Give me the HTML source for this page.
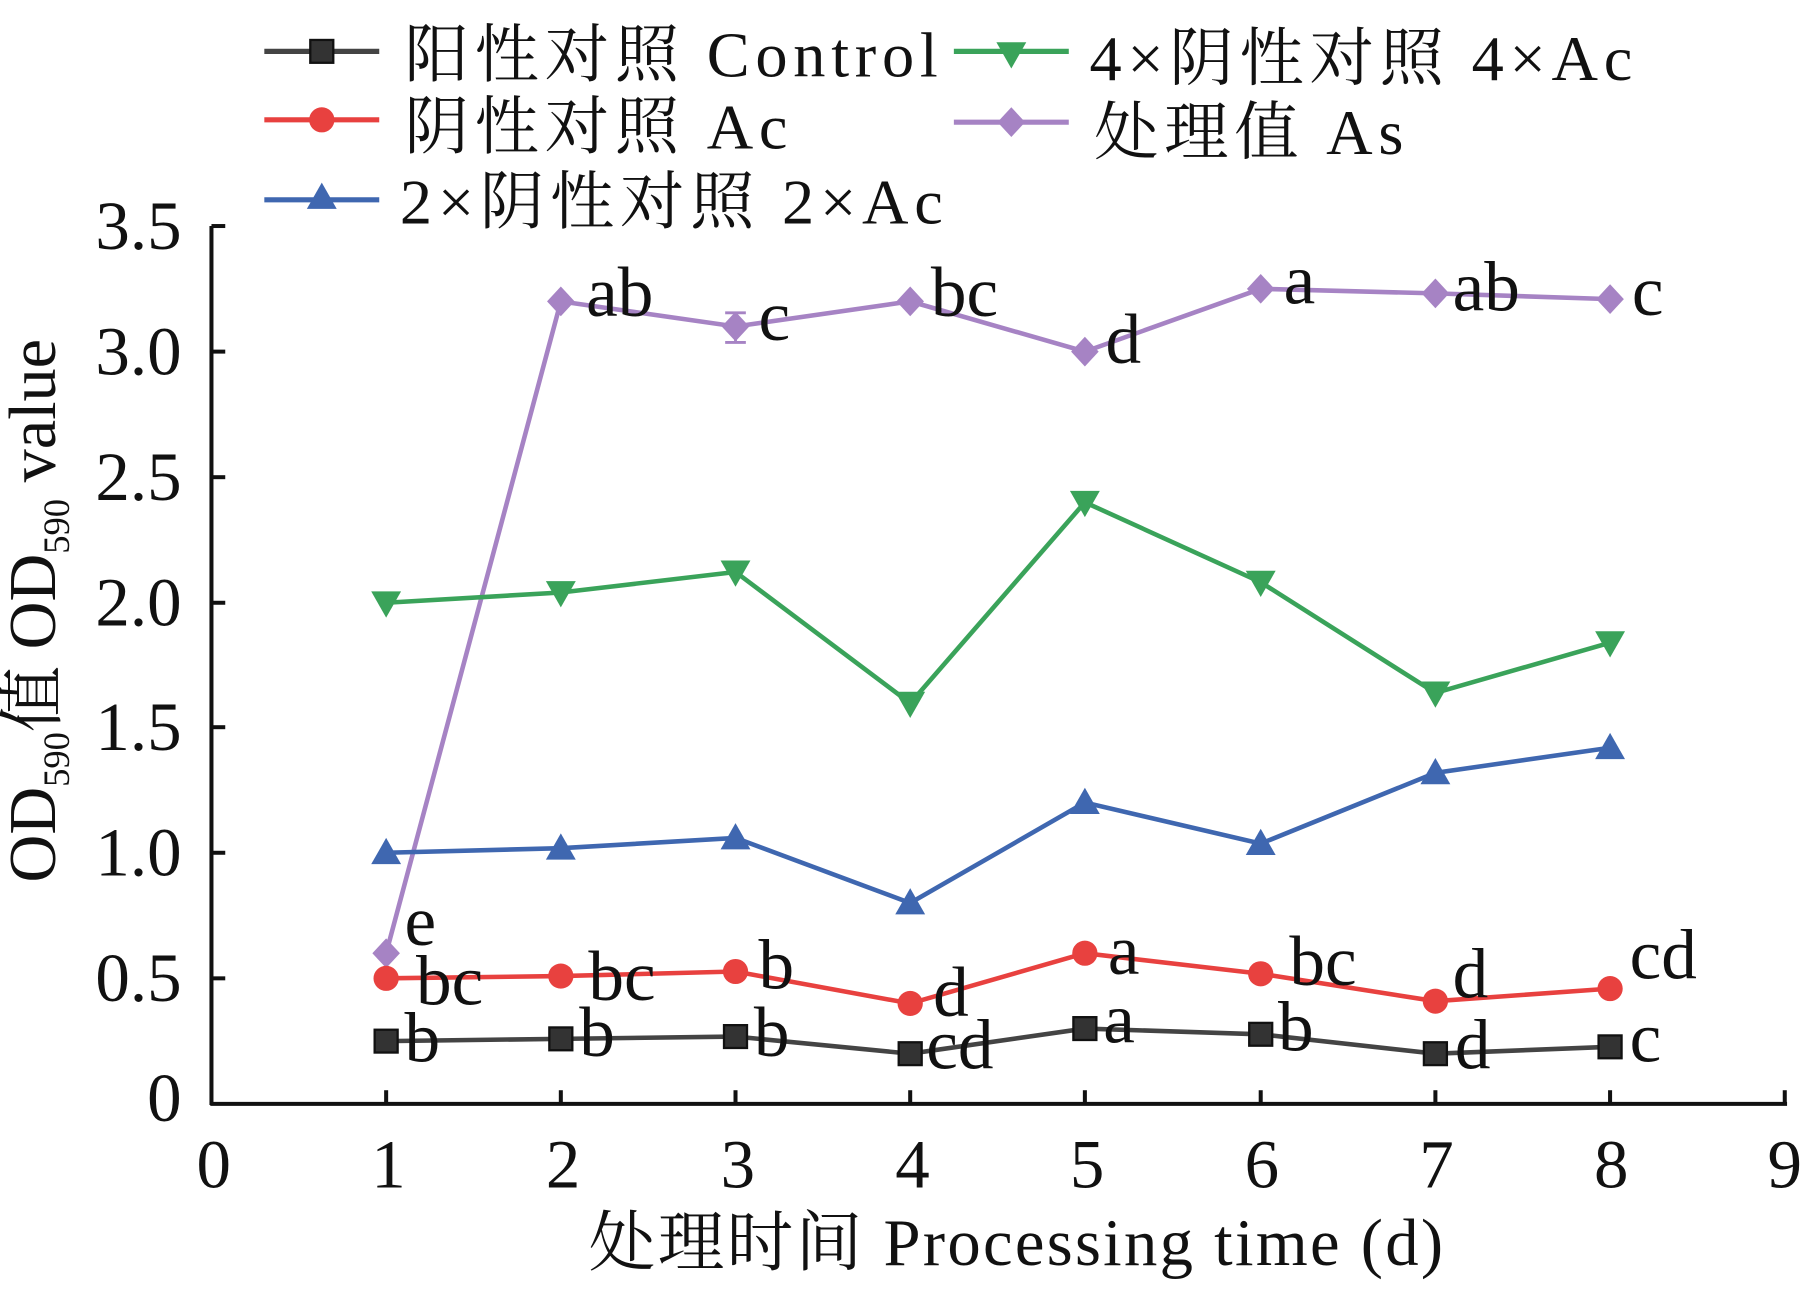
<!DOCTYPE html>
<html><head><meta charset="utf-8"><style>html,body{margin:0;padding:0;background:#fff}svg{display:block}</style></head>
<body>
<svg width="1802" height="1290" viewBox="0 0 1568 1130" preserveAspectRatio="none" font-family="'Liberation Serif','Noto Serif CJK SC',serif">
<defs>
<g id="sq"><rect x="-10" y="-10" width="20" height="20" fill="#333" stroke="#111" stroke-width="2"/></g>
<g id="ci"><circle r="11" fill="#e8413f"/></g>
<g id="tu"><polygon points="0,-13 13,10 -13,10" fill="#3f67b0"/></g>
<g id="td"><polygon points="0,13 13,-10 -13,-10" fill="#3aa35a"/></g>
<g id="di"><polygon points="0,-13 12,0 0,13 -12,0" fill="#a683c4"/></g>
</defs>
<g stroke="#111" stroke-width="3.5" fill="none">
<line x1="184" y1="198" x2="184" y2="968"/>
<line x1="183" y1="967" x2="1555" y2="967"/>
<line x1="184" y1="198" x2="196" y2="198"/><line x1="184" y1="308" x2="196" y2="308"/><line x1="184" y1="418" x2="196" y2="418"/><line x1="184" y1="528" x2="196" y2="528"/><line x1="184" y1="637" x2="196" y2="637"/><line x1="184" y1="747" x2="196" y2="747"/><line x1="184" y1="857" x2="196" y2="857"/>
<line x1="336" y1="967" x2="336" y2="955"/><line x1="488" y1="967" x2="488" y2="955"/><line x1="640" y1="967" x2="640" y2="955"/><line x1="792" y1="967" x2="792" y2="955"/><line x1="944" y1="967" x2="944" y2="955"/><line x1="1097" y1="967" x2="1097" y2="955"/><line x1="1249" y1="967" x2="1249" y2="955"/><line x1="1401" y1="967" x2="1401" y2="955"/><line x1="1553" y1="967" x2="1553" y2="955"/>
</g>
<g font-size="60" fill="#111" text-anchor="end">
<text x="158" y="218">3.5</text><text x="158" y="328">3.0</text><text x="158" y="438">2.5</text><text x="158" y="548">2.0</text><text x="158" y="657">1.5</text><text x="158" y="767">1.0</text><text x="158" y="877">0.5</text><text x="158" y="982">0</text>
</g>
<g font-size="60" fill="#111" text-anchor="middle">
<text x="186" y="1040">0</text><text x="338" y="1040">1</text><text x="490" y="1040">2</text><text x="642" y="1040">3</text><text x="794" y="1040">4</text><text x="946" y="1040">5</text><text x="1098" y="1040">6</text><text x="1250" y="1040">7</text><text x="1402" y="1040">8</text><text x="1553" y="1040">9</text>
</g>
<text x="885" y="1108" font-size="58" fill="#111" text-anchor="middle" letter-spacing="2">处理时间 Processing time (d)</text>
<text transform="translate(48,535) rotate(-90)" font-size="58" fill="#111" text-anchor="middle">OD<tspan font-size="32" dy="12">590</tspan><tspan dy="-12">值 OD</tspan><tspan font-size="32" dy="12">590</tspan><tspan dy="-12"> value</tspan></text>
<g fill="none" stroke-width="4">
<polyline stroke="#a683c4" points="336,835 488,264 640,286 792,264 944,308 1097,253 1249,257 1401,262"/>
<polyline stroke="#3aa35a" points="336,528 488,519 640,501 792,616 944,440 1097,510 1249,607 1401,563"/>
<polyline stroke="#3f67b0" points="336,747 488,743 640,734 792,791 944,703 1097,739 1249,677 1401,655"/>
<polyline stroke="#e8413f" points="336,857 488,855 640,851 792,879 944,835 1097,853 1249,877 1401,866"/>
<polyline stroke="#444" points="336,912 488,910 640,908 792,923 944,901 1097,906 1249,923 1401,917"/>
</g>
<g stroke="#a683c4" stroke-width="2.5"><line x1="640" y1="274" x2="640" y2="300"/><line x1="631" y1="274" x2="649" y2="274"/><line x1="631" y1="300" x2="649" y2="300"/></g>
<use href="#di" x="336" y="835"/><use href="#di" x="488" y="264"/><use href="#di" x="640" y="286"/><use href="#di" x="792" y="264"/><use href="#di" x="944" y="308"/><use href="#di" x="1097" y="253"/><use href="#di" x="1249" y="257"/><use href="#di" x="1401" y="262"/>
<use href="#td" x="336" y="528"/><use href="#td" x="488" y="519"/><use href="#td" x="640" y="501"/><use href="#td" x="792" y="616"/><use href="#td" x="944" y="440"/><use href="#td" x="1097" y="510"/><use href="#td" x="1249" y="607"/><use href="#td" x="1401" y="563"/>
<use href="#tu" x="336" y="747"/><use href="#tu" x="488" y="743"/><use href="#tu" x="640" y="734"/><use href="#tu" x="792" y="791"/><use href="#tu" x="944" y="703"/><use href="#tu" x="1097" y="739"/><use href="#tu" x="1249" y="677"/><use href="#tu" x="1401" y="655"/>
<use href="#ci" x="336" y="857"/><use href="#ci" x="488" y="855"/><use href="#ci" x="640" y="851"/><use href="#ci" x="792" y="879"/><use href="#ci" x="944" y="835"/><use href="#ci" x="1097" y="853"/><use href="#ci" x="1249" y="877"/><use href="#ci" x="1401" y="866"/>
<use href="#sq" x="336" y="912"/><use href="#sq" x="488" y="910"/><use href="#sq" x="640" y="908"/><use href="#sq" x="792" y="923"/><use href="#sq" x="944" y="901"/><use href="#sq" x="1097" y="906"/><use href="#sq" x="1249" y="923"/><use href="#sq" x="1401" y="917"/>
<g font-size="62" fill="#111">
<text x="510" y="277">ab</text><text x="660" y="298">c</text><text x="810" y="277">bc</text><text x="962" y="318">d</text><text x="1117" y="266">a</text><text x="1264" y="272">ab</text><text x="1420" y="276">c</text>
<text x="352" y="828">e</text>
<text x="362" y="880">bc</text><text x="512" y="876">bc</text><text x="660" y="866">b</text><text x="812" y="890">d</text><text x="964" y="853">a</text><text x="1122" y="863">bc</text><text x="1264" y="874">d</text><text x="1418" y="857">cd</text>
<text x="352" y="930">b</text><text x="504" y="925">b</text><text x="656" y="925">b</text><text x="806" y="936">cd</text><text x="960" y="913">a</text><text x="1112" y="920">b</text><text x="1266" y="936">d</text><text x="1418" y="930">c</text>
</g>
<g stroke-width="4.5" fill="none">
<line x1="230" y1="45" x2="330" y2="45" stroke="#444"/>
<line x1="230" y1="105" x2="330" y2="105" stroke="#e8413f"/>
<line x1="230" y1="175" x2="330" y2="175" stroke="#3f67b0"/>
<line x1="830" y1="45" x2="930" y2="45" stroke="#3aa35a"/>
<line x1="830" y1="107" x2="930" y2="107" stroke="#a683c4"/>
</g>
<use href="#sq" x="280" y="45"/><use href="#ci" x="280" y="105"/><use href="#tu" x="280" y="173"/><use href="#td" x="880" y="47"/><use href="#di" x="880" y="107"/>
<g font-size="56" fill="#111" letter-spacing="5">
<text x="352" y="67">阳性对照 Control</text>
<text x="352" y="130">阴性对照 Ac</text>
<text x="348" y="196">2×阴性对照 2×Ac</text>
<text x="948" y="70">4×阴性对照 4×Ac</text>
<text x="952" y="135">处理值 As</text>
</g>
</svg>
</body></html>
